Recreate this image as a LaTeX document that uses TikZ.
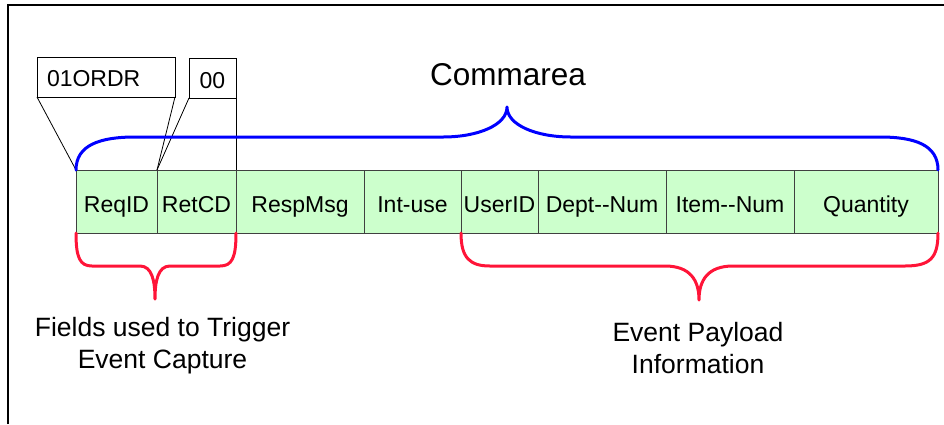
\documentclass[tikz,border=0pt]{standalone}
\usepackage{fontspec}
\setmainfont{Liberation Sans}
\definecolor{cellgreen}{HTML}{CCFFCC}
\definecolor{cellborder}{HTML}{404040}
\definecolor{bracered}{HTML}{FF1438}
\definecolor{braceblue}{HTML}{0000FF}
\newcommand{\dhy}{-\kern0pt-}
\begin{document}
\begin{tikzpicture}[x=1pt,y=-1pt,
  cell/.style={draw=cellborder, line width=0.8pt, fill=cellgreen, minimum height=63pt,
    inner sep=0pt, outer sep=0pt, anchor=north west, text height=21pt, text depth=0pt,
    font=\fontsize{23}{27}\selectfont},
  valbox/.style={draw=black, line width=0.8pt, fill=white, minimum height=40pt,
    inner sep=0pt, outer sep=0pt, anchor=north west, text depth=0pt,
    font=\fontsize{23}{27}\selectfont},
  callout/.style={draw=black, line width=0.8pt},
  bluebrace/.style={draw=braceblue, line width=3pt, line cap=round, line join=round},
  redbrace/.style={draw=bracered, line width=3pt, line cap=round, line join=round},
  lbl/.style={font=\fontsize{26.5}{32}\selectfont, align=center, inner sep=0pt}
]
\useasboundingbox (0,0) rectangle (944,424);
% frame
\draw[line width=1.2pt] (8,424) -- (8,5) -- (944,5);

% fields
\node[cell, minimum width=81pt]  (req)  at (76,170)  {ReqID};
\node[cell, minimum width=79pt]  (ret)  at (157,170) {RetCD};
\node[cell, minimum width=128pt] (resp) at (236,170) {RespMsg};
\node[cell, minimum width=97pt]  (int)  at (364,170) {Int-use};
\node[cell, minimum width=77pt]  (user) at (461,170) {UserID};
\node[cell, minimum width=128pt] (dept) at (538,170) {Dept\dhy Num};
\node[cell, minimum width=128pt] (item) at (666,170) {Item\dhy Num};
\node[cell, minimum width=144pt] (qty)  at (794,170) {Quantity};

% value boxes
\node[valbox, minimum width=128pt, text width=118pt, align=left, inner xsep=10pt, text height=18pt] (ordr) at (37,57) {01ORDR};
\node[valbox, minimum width=47pt, text height=20pt] (zz) at (189,58) {00};

\draw[callout] (ordr.south west) -- (req.north west);
\draw[callout] (ordr.south east) -- (req.north east);
\draw[callout] (zz.south west) -- (ret.north west);
\draw[callout] (zz.north east) -- (ret.north east);

% commarea brace
\node[font=\fontsize{31.5}{38}\selectfont, inner sep=0pt, anchor=base] (comm) at (508,85) {Commarea};
\draw[bluebrace] (req.north west) .. controls +(0,-25) and +(-35,0) .. (135,137) -- (443,137)
  .. controls +(35,0) and +(0,18) .. (507,107)
  .. controls +(0,18) and +(-35,0) .. (571,137) -- (880,137)
  .. controls +(35,0) and +(0,-25) .. (qty.north east);

% trigger brace
\draw[redbrace] (req.south west) .. controls +(0,25) and +(-12,0) .. (92,266) -- (140,266)
  .. controls +(12,0) and +(0,-18) .. (155,299)
  .. controls +(0,-18) and +(-12,0) .. (170,266) -- (220,266)
  .. controls +(12,0) and +(0,25) .. (ret.south east);
\node[lbl] (trig) at (162.5,346) {Fields used to Trigger\\Event Capture};

% payload brace
\draw[redbrace] (user.south west) .. controls +(0,25) and +(-20,0) .. (490,266) -- (665,266)
  .. controls +(25,0) and +(0,-20) .. (699,300)
  .. controls +(0,-20) and +(-25,0) .. (733,266) -- (905,266)
  .. controls +(25,0) and +(0,25) .. (qty.south east);
\node[lbl] (pay) at (698,348) {Event Payload\\Information};
\end{tikzpicture}
\end{document}
